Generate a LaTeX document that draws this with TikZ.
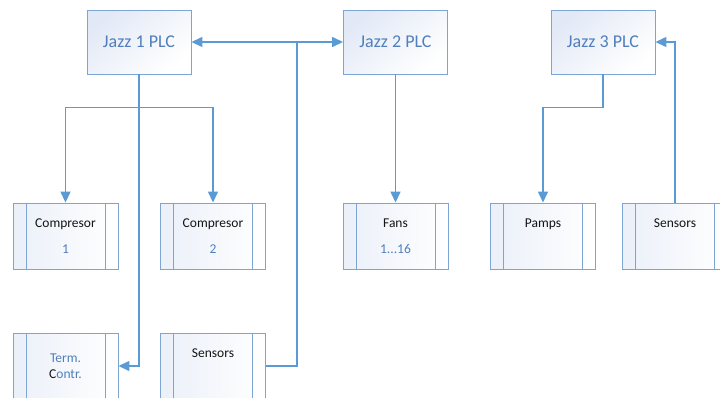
\documentclass[tikz,border=0pt]{standalone}
\usepackage{fontspec}
\setmainfont{Carlito}
\usetikzlibrary{arrows.meta}
\definecolor{LinkBlue}{RGB}{91,155,213}
\definecolor{EdgeBlue}{RGB}{125,165,212}
\definecolor{LabelBlue}{RGB}{80,127,188}
\definecolor{BoxTint}{RGB}{226,233,246}
\definecolor{NoteBlack}{RGB}{20,20,20}

\begin{document}
\begin{tikzpicture}[
    x=1pt, y=-1pt,
    >={Triangle[length=11pt,width=10pt]},
    plcbox/.style={draw=EdgeBlue, line width=0.9pt, top color=BoxTint, bottom color=white,
        shading angle=40, minimum width=104pt, minimum height=64pt, inner sep=0pt,
        font=\fontsize{18}{21}\selectfont, text=LabelBlue},
    procbox/.style={draw=EdgeBlue, line width=0.9pt, left color=BoxTint!70, right color=white,
        minimum width=105pt, minimum height=66pt, inner sep=0pt, align=center,
        font=\fontsize{13.5}{15}\selectfont, text=NoteBlack,
        path picture={\draw[EdgeBlue, line width=0.9pt]
            ([xshift=13pt]path picture bounding box.north west) -- ([xshift=13pt]path picture bounding box.south west)
            ([xshift=-13pt]path picture bounding box.north east) -- ([xshift=-13pt]path picture bounding box.south east);}},
    link/.style={draw=LinkBlue, line width=1.4pt},
]
\useasboundingbox (0,0) rectangle (720,397);
\clip (0,0) rectangle (720,397);

% PLCs
\node[plcbox] (jazz1) at (139,42) {Jazz 1 PLC};
\node[plcbox] (jazz2) at (395.5,42) {Jazz 2 PLC};
\node[plcbox] (jazz3) at (603,42) {Jazz 3 PLC};

% Devices
\node[procbox] (comp1) at (65.5,236) {Compresor\\[11pt]{\color{LabelBlue}1}};
\node[procbox] (comp2) at (213,236) {Compresor\\[11pt]{\color{LabelBlue}2}};
\node[procbox] (fans) at (395.5,236) {Fans\\[11pt]{\color{LabelBlue}1...16}};
\node[procbox] (pamps) at (543,236) {Pamps\\[11pt]~};
\node[procbox] (sens2) at (675,236) {Sensors\\[11pt]~};
\node[procbox] (term) at (65.5,366) {{\color{LabelBlue}Term.}\\[1pt]C{\color{LabelBlue}ontr.}};
\node[procbox] (sens1) at (213,366) {Sensors\\[11pt]~};

% Links
\coordinate (tap) at (297,42);
\draw[link, <->] (jazz1) -- (jazz2);
\draw[link] (sens1.east) -| (tap);
\draw[link, ->] (jazz1.south) -- ++(0,33) -| (comp1.north);
\draw[link, ->] (jazz1.south) -- ++(0,33) -| (comp2.north);
\draw[link, ->] (jazz1.south) |- (term.east);
\draw[link, ->] (jazz2) -- (fans);
\draw[link, ->] (jazz3.south) -- ++(0,33) -| (pamps.north);
\draw[link, ->] (sens2.north) |- (jazz3.east);

\end{tikzpicture}
\end{document}
